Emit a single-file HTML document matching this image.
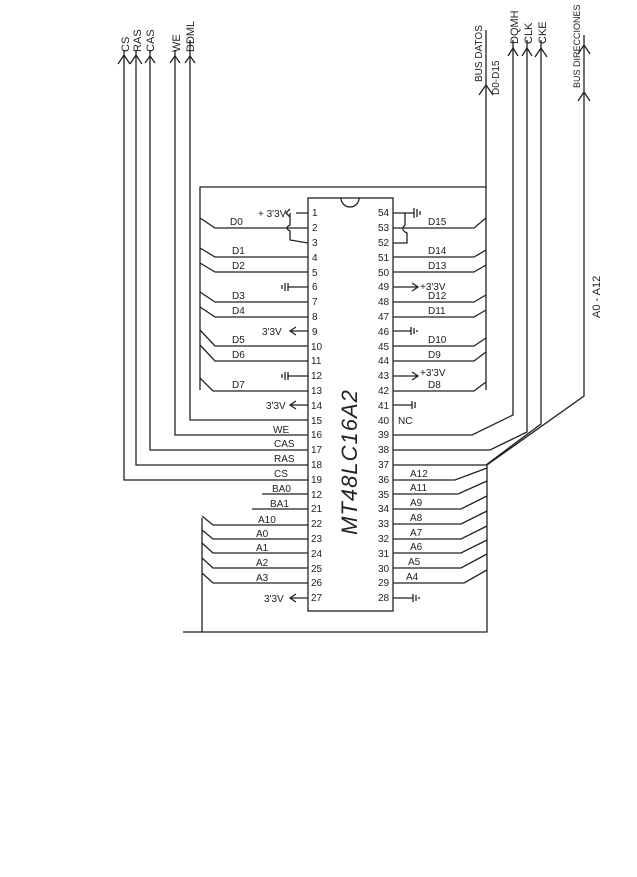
<!DOCTYPE html>
<html><head><meta charset="utf-8"><style>
html,body{margin:0;padding:0;background:#fff;}
svg{display:block;}
text{font-family:"Liberation Sans",sans-serif;fill:#222;}
</style></head><body>
<svg width="637" height="877" viewBox="0 0 637 877" xmlns="http://www.w3.org/2000/svg" stroke="#222" stroke-width="1.3" fill="none">
<!-- chip -->
<rect x="308" y="198" width="85" height="413"/>
<path d="M341 198 a9 9 0 0 0 18 0"/>
<text x="357" y="462" transform="rotate(-90 357 462)" font-size="22" font-style="italic" text-anchor="middle" stroke="none" letter-spacing="1">MT48LC16A2</text>

<!-- data bus box -->
<path d="M200 390 L200 187 L486 187 L486 30"/>
<path d="M486 187 L486 390"/>
<!-- left data lines -->
<path d="M200 218 L215 228 L308 228"/>
<path d="M200 248 L215 257 L308 257"/>
<path d="M200 263 L215 272 L308 272"/>
<path d="M200 292 L215 302 L308 302"/>
<path d="M200 307 L215 317 L308 317"/>
<path d="M200 330 L215 346 L308 346"/>
<path d="M200 345 L215 361 L308 361"/>
<path d="M200 378 L213 391 L308 391"/>
<!-- right data lines -->
<path d="M393 228 L474 228 L486 218"/>
<path d="M393 257 L474 257 L486 250"/>
<path d="M393 272 L474 272 L486 265"/>
<path d="M393 302 L474 302 L486 295"/>
<path d="M393 317 L474 317 L486 310"/>
<path d="M393 346 L474 346 L486 338"/>
<path d="M393 361 L474 361 L486 352"/>
<path d="M393 391 L474 391 L486 382"/>

<!-- control lines left -->
<path d="M190 40 L190 420 L308 420"/>
<path d="M175 50 L175 435 L308 435"/>
<path d="M150 50 L150 450 L308 450"/>
<path d="M136 50 L136 465 L308 465"/>
<path d="M124 50 L124 480 L308 480"/>
<path d="M262 494 L308 494"/>
<path d="M252 509 L308 509"/>
<!-- arrows top left -->
<path d="M118 64 L124 55 L130 64"/><path d="M130 64 L136 55 L142 64"/><path d="M145 63 L150 56 L155 63"/>
<path d="M170 63 L175 56 L180 63"/><path d="M185 63 L190 56 L195 63"/>

<!-- right control lines -->
<path d="M513 40 L513 415 L472 435 L393 435"/>
<path d="M527 40 L527 432 L490 450 L393 450"/>
<path d="M541 40 L541 424 L486 465 L393 465"/>
<path d="M508 56 L513 48 L518 56"/><path d="M522 56 L527 48 L532 56"/><path d="M535 57 L541 48 L547 57"/>
<path d="M479 95 L486 85 L493 95"/>
<!-- address bus -->
<path d="M584 35 L584 396 L487 465 L487 632 L183 632"/>
<path d="M578 54 L584 45 L590 54"/><path d="M578 101 L584 92 L590 101"/>
<!-- right addr lines -->
<path d="M393 480 L455 480 L487 468"/>
<path d="M393 494 L458 494 L487 481"/>
<path d="M393 509 L461 509 L487 496"/>
<path d="M393 524 L461 524 L487 511"/>
<path d="M393 539 L461 539 L487 526"/>
<path d="M393 553 L461 553 L487 540"/>
<path d="M393 568 L461 568 L487 554"/>
<path d="M393 583 L464 583 L487 570"/>
<!-- left addr lines -->
<path d="M202 518 L202 632"/>
<path d="M202 516 L213 525 L308 525"/>
<path d="M202 530 L213 539 L308 539"/>
<path d="M202 543 L213 553 L308 553"/>
<path d="M202 558 L213 568 L308 568"/>
<path d="M202 573 L213 583 L308 583"/>

<!-- power bits -->
<path d="M296 213 L308 213 M290 209 L286 213 L290 217"/>
<path d="M290 213 L290 225 Q284 228 290 231 L290 240 L308 243"/>
<path d="M288 287 L308 287 M288 283 L288 291 M285 283 L285 291 M282 285 L282 289"/>
<path d="M290 331 L308 331 M296 327 L290 331 L296 335"/>
<path d="M288 376 L308 376 M288 372 L288 380 M285 372 L285 380 M282 374 L282 378"/>
<path d="M290 405 L308 405 M296 401 L290 405 L296 409"/>
<path d="M290 598 L308 598 M296 594 L290 598 L296 602"/>
<path d="M393 213 L414 213 M414 208 L414 218 M417 209 L417 217 M420 211 L420 215"/>
<path d="M393 243 L407 243 L407 233 Q400 230 405 225 L405 213"/>
<path d="M393 287 L418 287 M412 283 L418 287 L412 291"/>
<path d="M393 331 L411 331 M411 327 L411 335 M414 328 L414 334 M417 330 L417 332"/>
<path d="M393 376 L418 376 M412 372 L418 376 L412 380"/>
<path d="M393 405 L412 405 M412 401 L412 409 M415 402 L415 408"/>
<path d="M393 598 L413 598 M413 594 L413 602 M416 595 L416 601 M419 597 L419 599"/>

<g stroke="none" font-size="10">
<text x="312" y="216">1</text><text x="312" y="231">2</text><text x="312" y="246">3</text><text x="312" y="261">4</text><text x="312" y="276">5</text><text x="312" y="290">6</text><text x="312" y="305">7</text><text x="312" y="320">8</text><text x="312" y="335">9</text><text x="311" y="350">10</text><text x="311" y="364">11</text><text x="311" y="379">12</text><text x="311" y="394">13</text><text x="311" y="409">14</text><text x="311" y="424">15</text><text x="311" y="438">16</text><text x="311" y="453">17</text><text x="311" y="468">18</text><text x="311" y="483">19</text><text x="311" y="498">12</text><text x="311" y="512">21</text><text x="311" y="527">22</text><text x="311" y="542">23</text><text x="311" y="557">24</text><text x="311" y="572">25</text><text x="311" y="586">26</text><text x="311" y="601">27</text>
<text x="378" y="216">54</text><text x="378" y="231">53</text><text x="378" y="246">52</text><text x="378" y="261">51</text><text x="378" y="276">50</text><text x="378" y="290">49</text><text x="378" y="305">48</text><text x="378" y="320">47</text><text x="378" y="335">46</text><text x="378" y="350">45</text><text x="378" y="364">44</text><text x="378" y="379">43</text><text x="378" y="394">42</text><text x="378" y="409">41</text><text x="378" y="424">40</text><text x="378" y="438">39</text><text x="378" y="453">38</text><text x="378" y="468">37</text><text x="378" y="483">36</text><text x="378" y="498">35</text><text x="378" y="512">34</text><text x="378" y="527">33</text><text x="378" y="542">32</text><text x="378" y="557">31</text><text x="378" y="572">30</text><text x="378" y="586">29</text><text x="378" y="601">28</text>
</g>
<g stroke="none" font-size="10">
<text x="230" y="225">D0</text><text x="232" y="254">D1</text><text x="232" y="269">D2</text><text x="232" y="299">D3</text><text x="232" y="314">D4</text><text x="232" y="343">D5</text><text x="232" y="358">D6</text><text x="232" y="388">D7</text>
<text x="258" y="217">+ 3'3V</text><text x="262" y="335">3'3V</text><text x="266" y="409">3'3V</text><text x="264" y="602">3'3V</text>
<text x="273" y="433">WE</text><text x="274" y="447">CAS</text><text x="274" y="462">RAS</text><text x="274" y="477">CS</text><text x="272" y="492">BA0</text><text x="270" y="507">BA1</text>
<text x="258" y="523">A10</text><text x="256" y="537">A0</text><text x="256" y="551">A1</text><text x="256" y="566">A2</text><text x="256" y="581">A3</text>
<text x="428" y="225">D15</text><text x="428" y="254">D14</text><text x="428" y="269">D13</text><text x="420" y="290">+3'3V</text><text x="428" y="299">D12</text><text x="428" y="314">D11</text><text x="428" y="343">D10</text><text x="428" y="358">D9</text><text x="420" y="376">+3'3V</text><text x="428" y="388">D8</text>
<text x="398" y="424">NC</text>
<text x="410" y="477">A12</text><text x="410" y="491">A11</text><text x="410" y="506">A9</text><text x="410" y="521">A8</text><text x="410" y="536">A7</text><text x="410" y="550">A6</text><text x="408" y="565">A5</text><text x="406" y="580">A4</text>
</g>
<g stroke="none" font-size="11">
<text transform="translate(129 52) rotate(-90)">CS</text>
<text transform="translate(141 52) rotate(-90)">RAS</text>
<text transform="translate(154 52) rotate(-90)">CAS</text>
<text transform="translate(180 52) rotate(-90)">WE</text>
<text transform="translate(194 52) rotate(-90)">DDML</text>
<text transform="translate(482 82) rotate(-90)" font-size="10">BUS DATOS</text>
<text transform="translate(499 95) rotate(-90)" font-size="10">D0-D15</text>
<text transform="translate(518 44) rotate(-90)">DQMH</text>
<text transform="translate(532 44) rotate(-90)">CLK</text>
<text transform="translate(546 44) rotate(-90)">CKE</text>
<text transform="translate(580 88) rotate(-90)" font-size="9">BUS DIRECCIONES</text>
<text transform="translate(600 318) rotate(-90)">A0 - A12</text>
</g>
</svg>
</body></html>
